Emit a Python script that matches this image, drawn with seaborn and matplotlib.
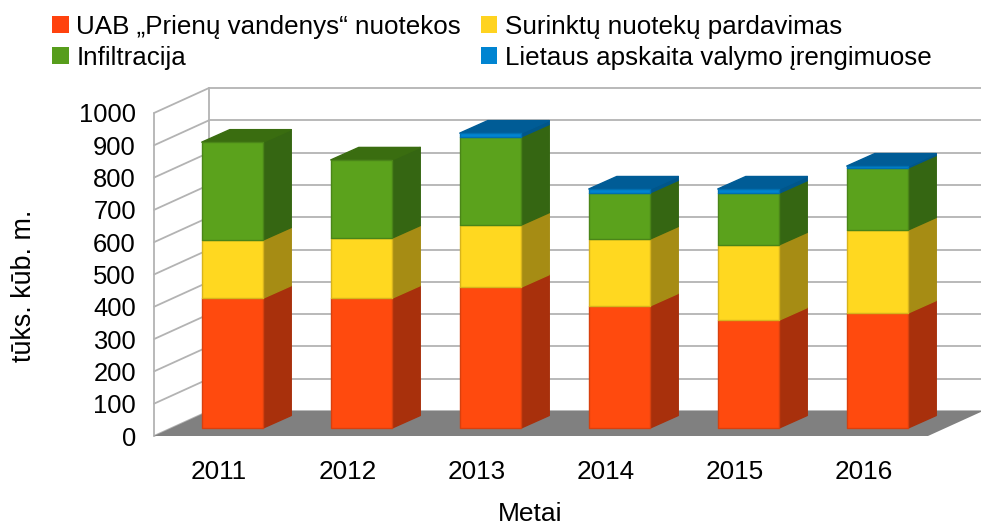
import matplotlib
matplotlib.use("Agg")
import matplotlib.pyplot as plt
import numpy as np
import seaborn as sns
from matplotlib.patches import Patch

# data
years = ["2011", "2012", "2013", "2014", "2015", "2016"]
series = ["UAB „Prienų vandenys“ nuotekos", "Surinktų nuotekų pardavimas", "Infiltracija",
          "Lietaus apskaita valymo įrengimuose"]
uab = [402, 402, 436, 378, 334, 356]
surinktu = [180, 186, 192, 207, 233, 257]
infiltracija = [303, 242, 273, 143, 160, 192]
lietaus = [0, 0, 12, 12, 13, 6]
yticks = list(range(0, 1001, 100))

colors = ["#ff4a0e", "#ffd820", "#5ba21c", "#0084d1"]
edge_colors = ["#d8400e", "#d8b41c", "#4a8518", "#006fb0"]
side_colors = ["#a8300c", "#a68c14", "#356612", "#00568a"]
top_colors = ["#b8330c", "#b89a16", "#3a6d10", "#005c96"]
legend_colors = ["#ff420e", "#ffd320", "#579d1c", "#0084d1"]

W, H = 981, 525
L, R, B, T = 154, 928, 436, 113  # front plane of the plot, px
PX_X = (R - L) / len(years)  # px per category
PX_Y = (B - T) / 1000  # px per unit
WALL_DX, WALL_DY = 55 / PX_X, 25 / PX_Y  # depth of the whole box
BAR_W = 61.5 / PX_X
BAR_DX, BAR_DY = 28 / PX_X, 12.5 / PX_Y  # depth of one bar
SHIFT_X, SHIFT_Y = 14 / PX_X, 8 / PX_Y  # bar front relative to the box front
GRID = "#b3b3b3"

sns.set_theme(style="white")
plt.rcParams["font.family"] = ["Liberation Sans", "DejaVu Sans"]

fig = plt.figure(figsize=(W / 100, H / 100), dpi=100)
ax = fig.add_axes([L / W, 1 - B / H, (R - L) / W, (B - T) / H])

x0, x1 = -0.5, len(years) - 0.5

# walls and floor
ax.fill([x0, x1, x1 + WALL_DX, x0 + WALL_DX], [0, 0, WALL_DY, WALL_DY],
        color="#808080", lw=0, zorder=1.5, clip_on=False)
for v in yticks:
    ax.plot([x0 + WALL_DX, x1 + WALL_DX], [v + WALL_DY, v + WALL_DY], color=GRID, lw=1.3, zorder=1, clip_on=False)
    ax.plot([x0, x0 + WALL_DX], [v, v + WALL_DY], color=GRID, lw=1.3, zorder=1, clip_on=False)
ax.plot([x0, x0], [0, 1000], color=GRID, lw=1.3, zorder=1, clip_on=False)
ax.plot([x0 + WALL_DX, x0 + WALL_DX], [WALL_DY, 1000 + WALL_DY], color=GRID, lw=1.3, zorder=1, clip_on=False)

# stacked bars, front faces through seaborn
values = [uab, surinktu, infiltracija, lietaus]
bottoms = np.zeros(len(years))
for vals, col, edge, side in zip(values, colors, edge_colors, side_colors):
    vals = np.array(vals, dtype=float)
    n_before = len(ax.patches)
    sns.barplot(x=years, y=vals, bottom=bottoms, color=col, saturation=1, width=BAR_W,
                errorbar=None, ax=ax, zorder=3, edgecolor=edge, linewidth=1.0)
    for p in ax.patches[n_before:]:
        p.set_x(p.get_x() + SHIFT_X)
        p.set_y(p.get_y() + SHIFT_Y)
        p.set_clip_on(False)
        p.set_joinstyle("round")
        if p.get_height() == 0:
            p.set_visible(False)
    # side faces
    for i in range(len(years)):
        if vals[i] == 0:
            continue
        xr = i + SHIFT_X + BAR_W / 2
        y_lo = bottoms[i] + SHIFT_Y
        y_hi = y_lo + vals[i]
        ax.fill([xr, xr + BAR_DX, xr + BAR_DX, xr],
                [y_lo, y_lo + BAR_DY, y_hi + BAR_DY, y_hi],
                facecolor=side, edgecolor=side, lw=1.0, joinstyle="round", zorder=2.5, clip_on=False)
    bottoms = bottoms + vals

# top faces, only the colour that ends the stack
for i in range(len(years)):
    idx = max(k for k in range(len(values)) if values[k][i] > 0)
    xl = i + SHIFT_X - BAR_W / 2
    xr = xl + BAR_W
    y = bottoms[i] + SHIFT_Y
    ax.fill([xl, xr, xr + BAR_DX, xl + BAR_DX], [y, y, y + BAR_DY, y + BAR_DY],
            facecolor=top_colors[idx], edgecolor=top_colors[idx], lw=1.0, joinstyle="round",
            zorder=2.6, clip_on=False)

ax.set_xlim(x0, x1)
ax.set_ylim(0, 1000)
ax.set_yticks(yticks)
ax.set_yticklabels([str(v) for v in yticks])
ax.tick_params(axis="y", length=0, pad=13, labelsize=18.4, labelcolor="black")
ax.tick_params(axis="x", length=0, pad=17, labelsize=18.8, labelcolor="black")
sns.despine(ax=ax, left=True, bottom=True)
ax.patch.set_alpha(0)

ax.set_xlabel("Metai", fontsize=19, color="black")
ax.xaxis.set_label_coords((530 - L) / (R - L), -(502 - B) / (B - T))
ax.set_ylabel("tūks. kūb. m.", fontsize=19.4, color="black")
ax.yaxis.set_label_coords((37 - L) / (R - L), (B - 286) / (B - T))

handles = [Patch(facecolor=c, edgecolor="none") for c in legend_colors]
order = [0, 2, 1, 3]
fig.legend([handles[k] for k in order], [series[k] for k in order], ncol=2,
           loc="upper left", bbox_to_anchor=(52 / W, 1 - 15 / H), frameon=False, fontsize=18.7,
           handlelength=0.64, handleheight=0.64, handletextpad=0.29, columnspacing=0.76,
           labelspacing=0.27, borderpad=0, borderaxespad=0, labelcolor="black")

fig.savefig("out.png", dpi=100)
